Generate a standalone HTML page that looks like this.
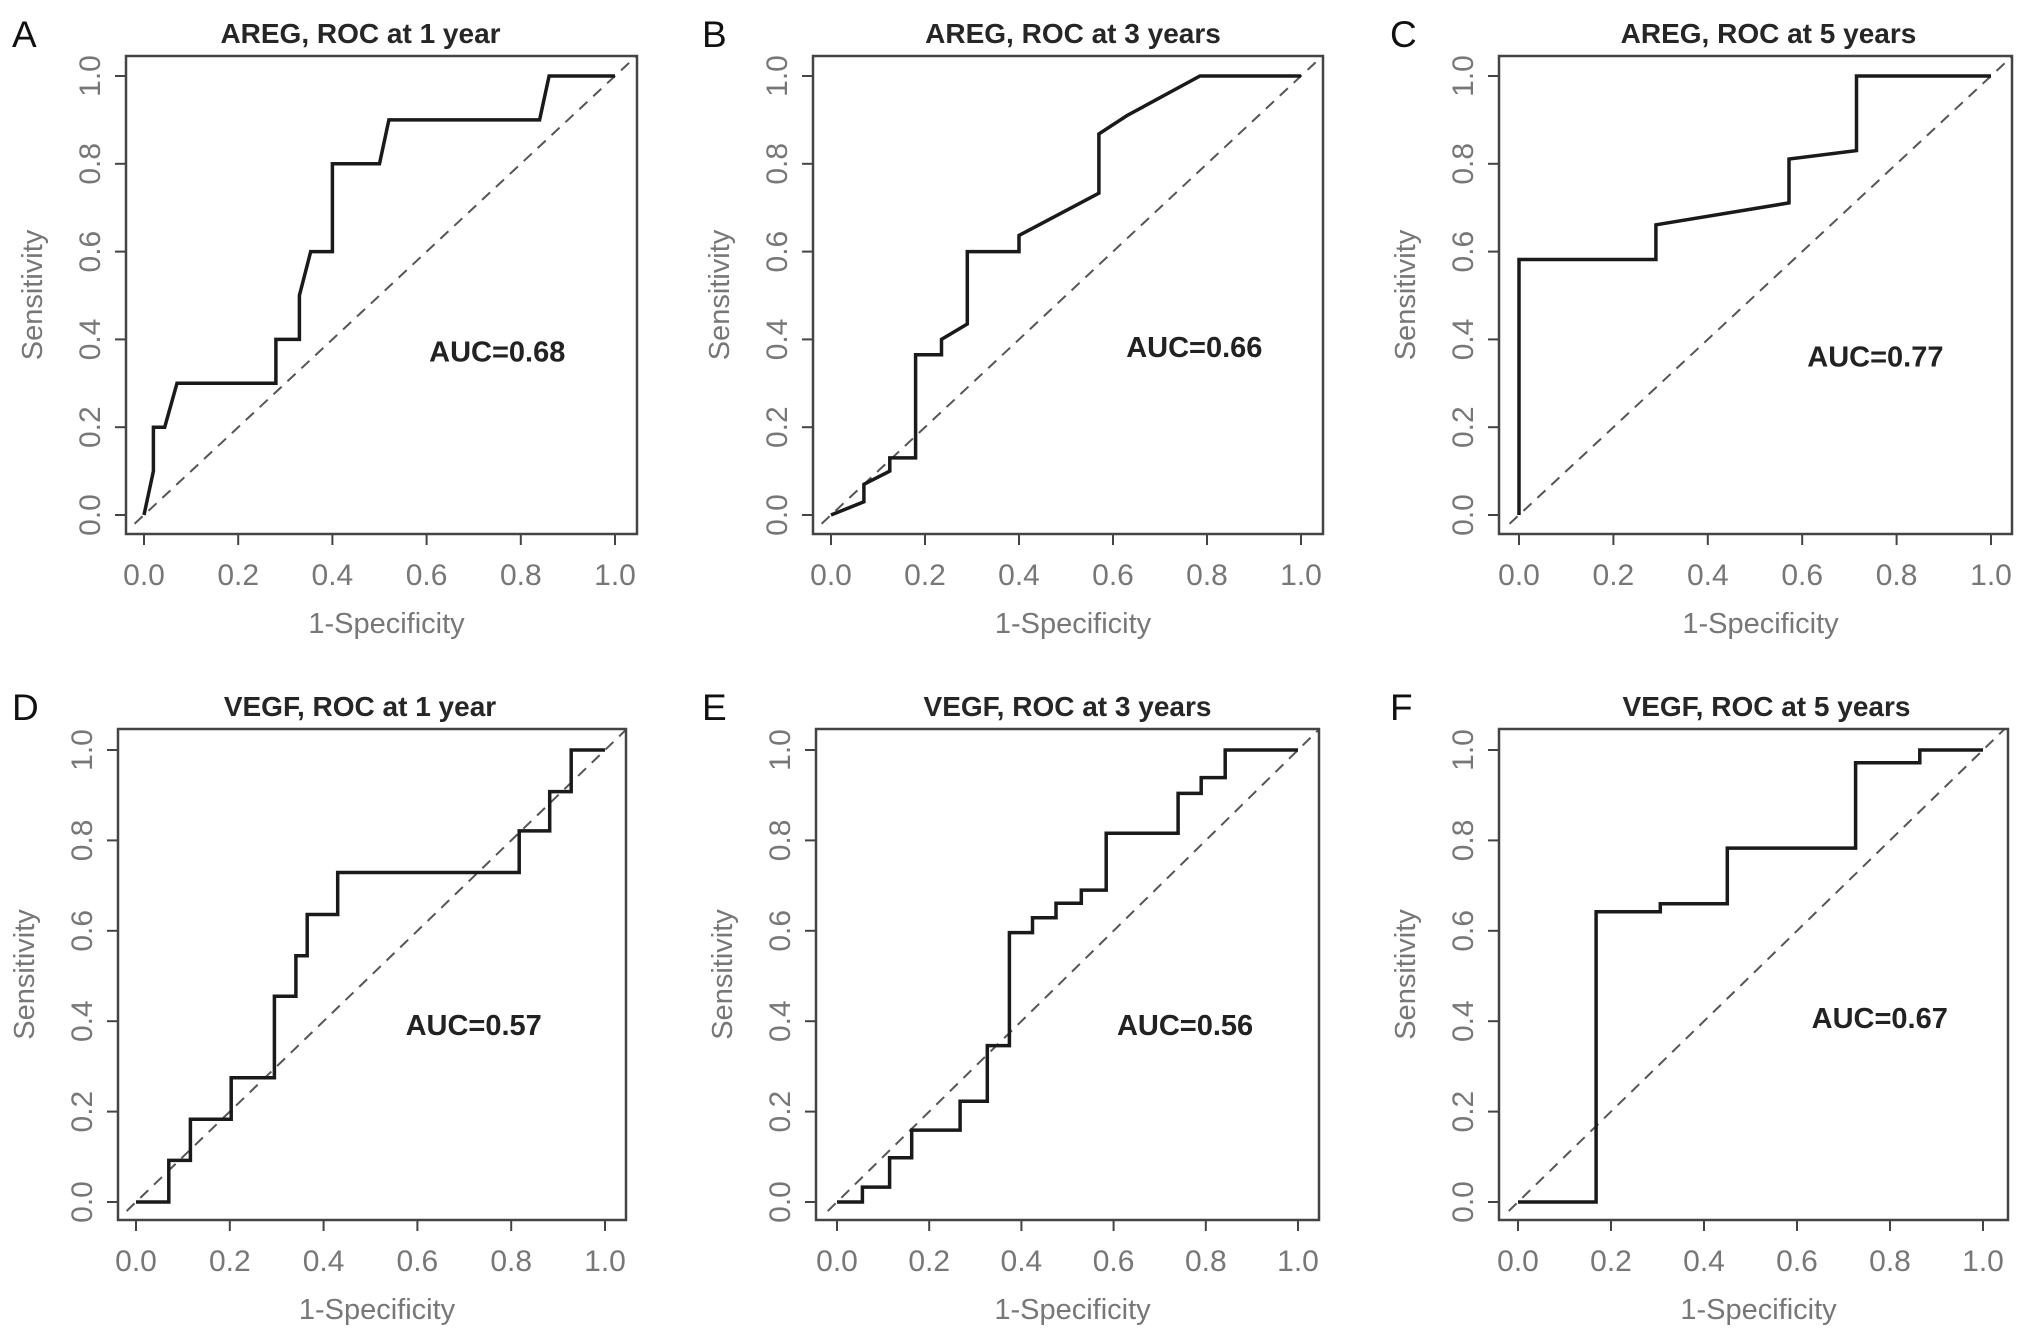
<!DOCTYPE html>
<html><head><meta charset="utf-8"><style>
html,body{margin:0;padding:0;background:#fff;}
svg{display:block;font-family:"Liberation Sans",Arial,sans-serif;}
</style></head><body>
<svg id="fig" width="2031" height="1331" viewBox="0 0 2031 1331"></svg>
<script>
// ---- data (1-specificity / sensitivity) ----
const fprA=[0,0.02,0.02,0.044,0.07,0.28,0.28,0.33,0.33,0.354,0.40,0.40,0.50,0.52,0.84,0.86,1];
const tprA=[0,0.1,0.2,0.2,0.3,0.3,0.4,0.4,0.5,0.6,0.6,0.8,0.8,0.9,0.9,1,1];
const fprB=[0,0.07,0.07,0.125,0.125,0.18,0.18,0.235,0.235,0.29,0.29,0.40,0.40,0.57,0.57,0.63,0.785,1];
const tprB=[0,0.03,0.07,0.1,0.13,0.13,0.365,0.365,0.4,0.435,0.6,0.6,0.637,0.733,0.868,0.91,1,1];
const fprC=[0,0,0.29,0.29,0.572,0.572,0.715,0.715,1];
const tprC=[0,0.582,0.582,0.661,0.711,0.811,0.83,1,1];
const fprD=[0,0.07,0.07,0.116,0.116,0.203,0.203,0.295,0.295,0.341,0.341,0.365,0.365,0.43,0.43,0.817,0.817,0.882,0.882,0.928,0.928,1];
const tprD=[0,0,0.092,0.092,0.183,0.183,0.275,0.275,0.455,0.455,0.545,0.545,0.636,0.636,0.729,0.729,0.821,0.821,0.908,0.908,1,1];
const fprE=[0,0.055,0.055,0.114,0.114,0.162,0.162,0.267,0.267,0.326,0.326,0.374,0.374,0.424,0.424,0.475,0.475,0.53,0.53,0.584,0.584,0.74,0.74,0.79,0.79,0.842,0.842,1];
const tprE=[0,0,0.033,0.033,0.098,0.098,0.159,0.159,0.223,0.223,0.346,0.346,0.596,0.596,0.629,0.629,0.661,0.661,0.69,0.69,0.816,0.816,0.904,0.904,0.939,0.939,1,1];
const fprF=[0,0.168,0.168,0.306,0.306,0.45,0.45,0.726,0.726,0.864,0.864,1];
const tprF=[0,0,0.642,0.642,0.66,0.66,0.783,0.783,0.972,0.972,1,1];
const titles=["AREG, ROC at 1 year","AREG, ROC at 3 years","AREG, ROC at 5 years","VEGF, ROC at 1 year","VEGF, ROC at 3 years","VEGF, ROC at 5 years"];
const aucLabels=["AUC=0.68","AUC=0.66","AUC=0.77","AUC=0.57","AUC=0.56","AUC=0.67"];
const letters=["A","B","C","D","E","F"];
const tickVals=[0,0.2,0.4,0.6,0.8,1.0];
const tickLabels=["0.0","0.2","0.4","0.6","0.8","1.0"];

const NS="http://www.w3.org/2000/svg";
const svg=document.getElementById('fig');
function mk(tag,attrs,parent){const e=document.createElementNS(NS,tag);for(const k in attrs)e.setAttribute(k,attrs[k]);(parent||svg).appendChild(e);return e;}

const layouts=[
 {bl:126,br:637,bt:56,bb:534,x0:144,x1:615,y0:515,y1:76,ax:0.75,ay:0.35,lx:12,tdx:-21},
 {bl:813,br:1323,bt:56,bb:534,x0:831,x1:1301,y0:515,y1:76,ax:0.773,ay:0.36,lx:702,tdx:5},
 {bl:1499,br:2012,bt:56,bb:534,x0:1519,x1:1991,y0:515,y1:76,ax:0.755,ay:0.338,lx:1390,tdx:13},
 {bl:118,br:626,bt:729,bb:1220,x0:136,x1:605,y0:1202,y1:750,ax:0.72,ay:0.37,lx:12,tdx:-12},
 {bl:816,br:1319,bt:729,bb:1220,x0:837,x1:1298,y0:1202,y1:750,ax:0.755,ay:0.37,lx:702,tdx:0},
 {bl:1499,br:2008,bt:729,bb:1220,x0:1518,x1:1983,y0:1202,y1:750,ax:0.778,ay:0.385,lx:1390,tdx:13}
];
const fprs=[fprA,fprB,fprC,fprD,fprE,fprF];
const tprs=[tprA,tprB,tprC,tprD,tprE,tprF];

layouts.forEach((L,i)=>{
 const g=mk('g',{});
 
 
 const sx=v=>L.x0+(L.x1-L.x0)*v;
 const sy=v=>L.y0+(L.y1-L.y0)*v;
 const bc=(L.bl+L.br)/2;
 const t=mk('text',{x:bc+L.tdx,y:L.bt-13,'text-anchor':'middle','font-size':28,'font-weight':'bold',fill:'#262626'},g);
 t.textContent=titles[i];
 
 
 const lt=mk('text',{x:L.lx,y:L.bt-9,'font-size':37,fill:'#111'},g);
 lt.textContent=letters[i];
 
 
 const cid='clip'+i;
 const cp=mk('clipPath',{id:cid},g);
 mk('rect',{x:L.bl,y:L.bt,width:L.br-L.bl,height:L.bb-L.bt},cp);
 const dg=mk('line',{x1:sx(-0.02),y1:sy(-0.02),x2:sx(1.06),y2:sy(1.06),stroke:'#555','stroke-width':2,'stroke-dasharray':'11,8','clip-path':'url(#'+cid+')'},g);
 
 
 const pts=fprs[i].map((f,k)=>sx(f).toFixed(1)+','+sy(tprs[i][k]).toFixed(1)).join(' ');
 const pl=mk('polyline',{points:pts,fill:'none',stroke:'#1a1a1a','stroke-width':3.5,'stroke-linejoin':'miter'},g);
 
 
 const box=mk('rect',{x:L.bl,y:L.bt,width:L.br-L.bl,height:L.bb-L.bt,fill:'none',stroke:'#444','stroke-width':2.5},g);
 
 
 tickVals.forEach((v,k)=>{
  const xt=mk('line',{x1:sx(v),x2:sx(v),y1:L.bb,y2:L.bb+11,stroke:'#444','stroke-width':2},g);
  
  
  const xl=mk('text',{x:sx(v),y:L.bb+51,'text-anchor':'middle','font-size':30,fill:'#777'},g);
  xl.textContent=tickLabels[k];
  
  
  const yt=mk('line',{x1:L.bl-11,x2:L.bl,y1:sy(v),y2:sy(v),stroke:'#444','stroke-width':2},g);
  
  
  const yx=L.bl-26, yy=sy(v);
  const yl=mk('text',{x:yx,y:yy,'text-anchor':'middle','font-size':30,fill:'#777',transform:'rotate(-90 '+yx+' '+yy+')'},g);
  yl.textContent=tickLabels[k];
  
  
 });
 const xa=mk('text',{x:bc+5,y:L.bb+99,'text-anchor':'middle','font-size':29,fill:'#777'},g);
 xa.textContent='1-Specificity';
 
 
 const ayx=L.bl-84, ayy=(L.bt+L.bb)/2;
 const ya=mk('text',{x:ayx,y:ayy,'text-anchor':'middle','font-size':29,fill:'#777',transform:'rotate(-90 '+ayx+' '+ayy+')'},g);
 ya.textContent='Sensitivity';
 
 
 const au=mk('text',{x:sx(L.ax),y:sy(L.ay),'text-anchor':'middle','font-size':29,'font-weight':'bold',fill:'#222'},g);
 au.textContent=aucLabels[i];
 
 
});
</script>
</body></html>
